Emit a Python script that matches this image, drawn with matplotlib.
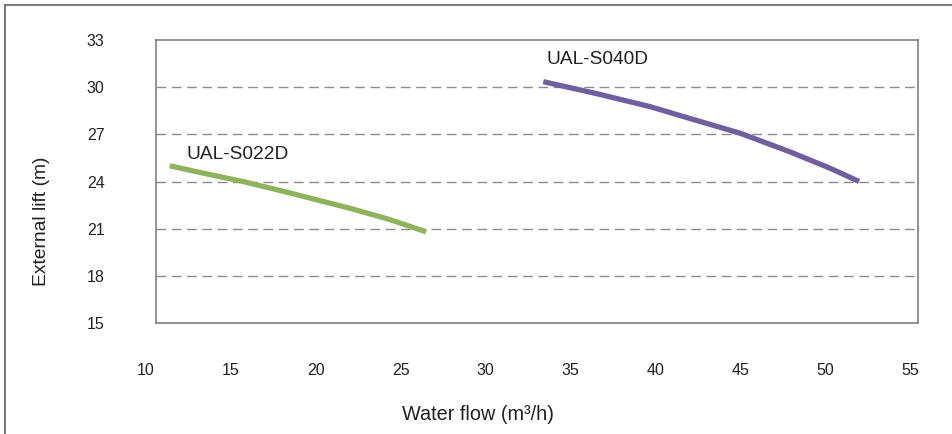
import matplotlib
matplotlib.use("Agg")
import matplotlib.pyplot as plt
from matplotlib.lines import Line2D
import matplotlib.transforms as mtransforms

plt.rcParams['font.family'] = ['Liberation Sans', 'DejaVu Sans']

# Data
s022_flow = [11.4, 13.5, 15.7, 18.0, 20.0, 22.0, 24.3, 26.5]
s022_lift = [25.0, 24.5, 24.0, 23.4, 22.85, 22.3, 21.6, 20.8]
s040_flow = [33.4, 36.5, 39.7, 42.0, 45.0, 47.9, 50.3, 52.0]
s040_lift = [30.35, 29.6, 28.76, 28.02, 27.07, 25.9, 24.84, 24.0]
series_names = ["UAL-S022D", "UAL-S040D"]
x_ticks = [10, 15, 20, 25, 30, 35, 40, 45, 50, 55]
y_ticks = [15, 18, 21, 24, 27, 30, 33]

W, H = 952, 434
fig = plt.figure(figsize=(W / 100, H / 100), dpi=100)

def fx(px):
    return px / W

def fy(py):
    return 1 - py / H

left, right, top, bottom = 156, 917.5, 40, 323
ax = fig.add_axes([fx(left), fy(bottom), fx(right) - fx(left), fy(top) - fy(bottom)])

px_per_unit = (910 - 146) / 45.0
x0 = 10 + (left - 146) / px_per_unit
x1 = 10 + (right - 146) / px_per_unit
ax.set_xlim(x0, x1)
ax.set_ylim(15, 33)

for s in ax.spines.values():
    s.set_color('#808080')
    s.set_linewidth(1.2)

ax.set_yticks(y_ticks)
ax.set_yticklabels([str(v) for v in y_ticks])
ax.tick_params(axis='y', length=0, pad=37, labelsize=11.5, labelcolor='#222222')
ax.set_xticks([])

for v in y_ticks[1:-1]:
    ax.axhline(v, color='#8c8c8c', linewidth=1.0, linestyle=(0, (7, 4)), zorder=1)

ax.plot(s022_flow, s022_lift, color='#8db45a', linewidth=3.8, solid_capstyle='butt', zorder=3)
ax.plot(s040_flow, s040_lift, color='#6f5f9e', linewidth=3.8, solid_capstyle='butt', zorder=3)

ax.text(12.4, 25.7, series_names[0], fontsize=13.8, color='#222222', va='center', ha='left')
ax.text(33.6, 31.73, series_names[1], fontsize=13.8, color='#222222', va='center', ha='left')

# x tick labels (category-like axis offset from plot area)
trans = mtransforms.blended_transform_factory(ax.transData, fig.transFigure)
for v in x_ticks:
    ax.text(v, fy(370.5), str(v), transform=trans, ha='center', va='center',
            fontsize=11.5, color='#222222', clip_on=False)

fig.text(fx(478.5), fy(415), "Water flow (m³/h)", ha='center', va='center',
         fontsize=14.3, color='#222222')
fig.text(fx(42), fy(221.5), "External lift (m)", ha='center', va='center',
         rotation=90, fontsize=13.9, color='#222222')

# outer frame (left and top edges visible)
fig.add_artist(Line2D([fx(4.5), fx(4.5)], [fy(4.5), 0], color='#6e6e6e', linewidth=1.3,
                      transform=fig.transFigure))
fig.add_artist(Line2D([fx(4.5), 1], [fy(4.5), fy(4.5)], color='#6e6e6e', linewidth=1.3,
                      transform=fig.transFigure))

fig.savefig("out.png", dpi=100)
